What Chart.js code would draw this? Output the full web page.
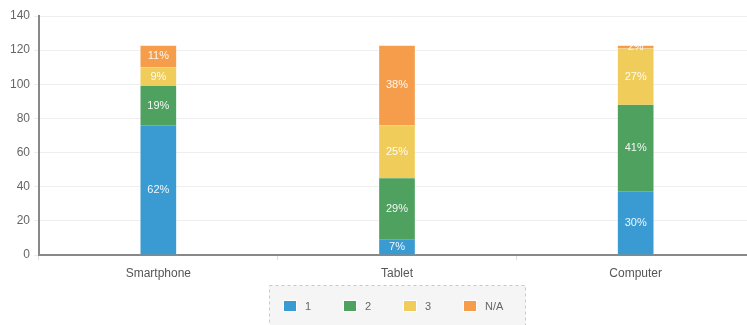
<!DOCTYPE html>
<html>
<head>
<meta charset="utf-8">
<script src="https://cdn.jsdelivr.net/npm/chart.js@4/dist/chart.umd.min.js"></script>
<style>
  html, body { margin: 0; padding: 0; background: #fff; overflow: hidden; }
  #wrap { position: relative; width: 756px; height: 325px; }
</style>
</head>
<body>
<div id="wrap"><canvas id="c"></canvas></div>
<script>
// Device usage by answer group
const categories = ['Smartphone', 'Tablet', 'Computer'];
const seriesNames = ['1', '2', '3', 'N/A'];
const series1 = [76, 9, 37];
const series2 = [23, 36, 51];
const series3 = [11, 31, 33];
const seriesNA = [13, 47, 2];
const yMax = 140;
const yStep = 20;

const colors = ['#3a9ad2', '#4fa160', '#f0cd5a', '#f59d4b'];
const allSeries = [series1, series2, series3, seriesNA];

const totals = categories.map((_, i) => allSeries.reduce((s, arr) => s + arr[i], 0));

const FONT = '"Liberation Sans", Arial, sans-serif';

const datasets = allSeries.map((vals, k) => ({
  label: seriesNames[k],
  data: vals,
  backgroundColor: colors[k],
  borderColor: 'rgba(255,255,255,0.4)',
  // pale edges on the sides of each column and on its top only
  borderWidth: { left: 1, right: 1, top: k === allSeries.length - 1 ? 1 : 0, bottom: 0 },
  borderSkipped: false,
  barThickness: 37
}));

// Percentage of each category's total, printed in the middle of every segment
const segmentLabels = {
  id: 'segmentLabels',
  afterDatasetsDraw(chart) {
    const ctx = chart.ctx;
    ctx.save();
    ctx.font = '11px ' + FONT;
    ctx.fillStyle = 'rgba(255,255,255,0.92)';
    ctx.textAlign = 'center';
    ctx.textBaseline = 'middle';
    chart.data.datasets.forEach((ds, k) => {
      const meta = chart.getDatasetMeta(k);
      meta.data.forEach((bar, i) => {
        const pct = Math.round(ds.data[i] / totals[i] * 100);
        ctx.fillText(pct + '%', bar.x, (bar.y + bar.base) / 2);
      });
    });
    ctx.restore();
  }
};

// Legend in a dashed grey panel, centred under the plot area
const panelLegend = {
  id: 'panelLegend',
  afterDraw(chart) {
    const ctx = chart.ctx;
    const area = chart.chartArea;
    const cx = (area.left + area.right) / 2;
    const step = 60;
    const panelLeft = Math.round(cx - 128) + 0.5;
    const panelRight = Math.round(cx + 128) + 0.5;
    const panelTop = 285.5;
    const panelBottom = chart.height + 2;
    ctx.save();
    ctx.fillStyle = '#f5f5f5';
    ctx.fillRect(panelLeft, panelTop, panelRight - panelLeft, panelBottom - panelTop);
    ctx.strokeStyle = '#c8c8c8';
    ctx.lineWidth = 1;
    ctx.setLineDash([3, 3]);
    ctx.strokeRect(panelLeft, panelTop, panelRight - panelLeft, panelBottom - panelTop);
    ctx.setLineDash([]);

    const itemsLeft = panelLeft + 13.5;
    const yc = 306;
    ctx.font = '11px ' + FONT;
    ctx.textBaseline = 'middle';
    ctx.textAlign = 'left';
    chart.data.datasets.forEach((ds, k) => {
      const x = Math.round(itemsLeft + k * step);
      // light halo then the colour swatch
      ctx.fillStyle = '#ffffff';
      ctx.fillRect(x, yc - 6, 14, 12);
      ctx.fillStyle = ds.backgroundColor;
      ctx.fillRect(x + 1, yc - 5, 12, 10);
      ctx.fillStyle = '#666';
      ctx.fillText(ds.label, x + 22, yc + 0.5);
    });
    ctx.restore();
  }
};

new Chart(document.getElementById('c'), {
  type: 'bar',
  data: { labels: categories, datasets },
  plugins: [segmentLabels, panelLegend],
  options: {
    responsive: true,
    maintainAspectRatio: false,
    animation: false,
    layout: { padding: { top: 16, right: 1, left: 0, bottom: 36 } },
    plugins: {
      tooltip: { enabled: false },
      legend: { display: false }
    },
    scales: {
      x: {
        stacked: true,
        offset: true,
        afterFit(scale) { scale.height = 34; },
        grid: { drawOnChartArea: false, drawTicks: true, tickLength: 5, color: '#dddddd', offset: true },
        border: { display: true, color: '#888888', width: 2 },
        ticks: {
          color: '#555',
          padding: 6,
          font: { family: FONT, size: 12 }
        }
      },
      y: {
        stacked: true,
        min: 0,
        max: yMax,
        afterFit(scale) { scale.width = 39; },
        grid: { color: '#eeeeee', tickLength: 5 },
        border: { display: true, color: '#888888', width: 2 },
        ticks: {
          stepSize: yStep,
          color: '#666',
          padding: 4,
          font: { family: FONT, size: 12 }
        }
      }
    }
  }
});
</script>
</body>
</html>
